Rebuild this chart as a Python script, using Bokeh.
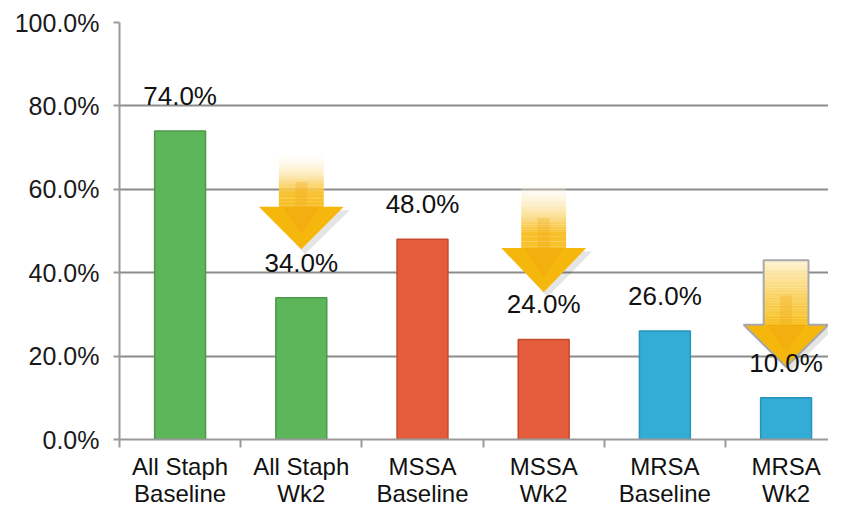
from bokeh.plotting import figure
from bokeh.models import Range1d, FixedTicker, PrintfTickFormatter, ColumnDataSource
from bokeh.embed import file_html
from bokeh.resources import INLINE
from bokeh.core.properties import value

categories = ["All Staph\nBaseline", "All Staph\nWk2", "MSSA\nBaseline", "MSSA\nWk2", "MRSA\nBaseline", "MRSA\nWk2"]
values = [74.0, 34.0, 48.0, 24.0, 26.0, 10.0]
bar_colors = ["#5DB65A", "#5DB65A", "#E45C3B", "#E45C3B", "#33ADD6", "#33ADD6"]
edge_colors = ["#4A9A47", "#4A9A47", "#C44A2C", "#C44A2C", "#2894BB", "#2894BB"]
y_ticks = [0, 20, 40, 60, 80, 100]

# decorative arrows above the "Wk2" bars: (category index, top, head start, tip)
arrow_idx = [1, 3, 5]
arrow_top = [69.0, 62.0, 43.0]
arrow_head = [55.8, 45.9, 27.5]
arrow_tip = [45.6, 35.3, 17.4]
arrow_outline = [False, False, True]

FONT = "Liberation Sans"
x = [i + 0.5 for i in range(len(categories))]

p = figure(width=828, height=509, output_backend="svg", toolbar_location=None,
           x_range=Range1d(0, 5.85), y_range=Range1d(0, 100),
           min_border_left=119, min_border_right=0, min_border_top=22, min_border_bottom=60)
p.outline_line_color = None
p.background_fill_color = "white"
p.border_fill_color = "white"

# grid
p.xgrid.grid_line_color = None
p.ygrid.ticker = FixedTicker(ticks=y_ticks)
p.ygrid.grid_line_color = "#8C8C8C"
p.ygrid.grid_line_width = 2

# y axis
p.yaxis.ticker = FixedTicker(ticks=y_ticks)
p.yaxis.formatter = PrintfTickFormatter(format="%.1f%%")
p.yaxis.axis_line_color = "#9A9A9A"
p.yaxis.axis_line_width = 2
p.yaxis.major_tick_line_color = "#9A9A9A"
p.yaxis.major_tick_line_width = 2
p.yaxis.major_tick_out = 6
p.yaxis.major_tick_in = 0
p.yaxis.minor_tick_line_color = None
p.yaxis.major_label_text_font = FONT
p.yaxis.major_label_text_font_size = "25px"
p.yaxis.major_label_text_color = "#1A1A1A"
p.yaxis.major_label_standoff = 14

# x axis: labels at category centres, tick marks at category boundaries
p.xaxis.ticker = FixedTicker(ticks=x, minor_ticks=list(range(len(categories))))
p.xaxis.major_label_overrides = {xi: c for xi, c in zip(x, categories)}
p.xaxis.axis_line_color = "#9A9A9A"
p.xaxis.axis_line_width = 2
p.xaxis.major_tick_line_color = None
p.xaxis.major_tick_out = 0
p.xaxis.major_tick_in = 0
p.xaxis.minor_tick_line_color = "#9A9A9A"
p.xaxis.minor_tick_line_width = 2
p.xaxis.minor_tick_out = 8
p.xaxis.minor_tick_in = 0
p.xaxis.major_label_text_font = FONT
p.xaxis.major_label_text_font_size = "24px"
p.xaxis.major_label_text_line_height = 1.0
p.xaxis.major_label_text_color = "#111111"
p.xaxis.major_label_standoff = 5

# bars
src = ColumnDataSource(dict(x=x, top=values, color=bar_colors, edge=edge_colors,
                            label=[f"{v:.1f}%" for v in values]))
p.vbar(x="x", top="top", bottom=0, width=0.42, fill_color="color", line_color="edge",
       line_width=1.5, source=src)

# arrows
def mix(c1, c2, t):
    a = [int(c1[i:i + 2], 16) for i in (1, 3, 5)]
    b = [int(c2[i:i + 2], 16) for i in (1, 3, 5)]
    return "#%02x%02x%02x" % tuple(round(a[k] + (b[k] - a[k]) * t) for k in range(3))

shaft_hw = 0.185
head_hw = 0.35
for idx, top, head, tip, outl in zip(arrow_idx, arrow_top, arrow_head, arrow_tip, arrow_outline):
    cx = x[idx]
    p.patch([cx - head_hw + 0.05, cx + head_hw + 0.05, cx + 0.03],
            [head - 0.8, head - 0.8, tip - 1.2], fill_color="#000000", fill_alpha=0.10, line_color=None)
    n = 40
    lefts, rights, tops, bottoms, cols, alphas = [], [], [], [], [], []
    for k in range(n):
        t0 = k / n
        t1 = (k + 1) / n
        tops.append(top - (top - head) * t0)
        bottoms.append(top - (top - head) * t1 - 0.05)
        lefts.append(cx - shaft_hw)
        rights.append(cx + shaft_hw)
        tt = (k + 0.5) / n
        if outl:
            cols.append(mix("#FFF6DC", "#F7BE1C", tt ** 0.8))
            alphas.append(1.0)
        else:
            cols.append(mix("#FFFFFF", "#F8C02A", min(1.0, tt * 1.3)))
            alphas.append(min(1.0, 0.1 + tt * 1.2))
    p.quad(left=lefts, right=rights, top=tops, bottom=bottoms, fill_color=cols,
           fill_alpha=alphas, line_color=None)
    p.quad(left=[cx - 0.05], right=[cx + 0.05], top=[head + (top - head) * 0.45], bottom=[head],
           fill_color="#F2A81E", fill_alpha=0.3, line_color=None)
    p.patch([cx - head_hw, cx + head_hw, cx], [head, head, tip],
            fill_color="#F6B70C", line_color=None)
    p.patch([cx - head_hw * 0.45, cx + head_hw * 0.45, cx], [head, head, tip + (head - tip) * 0.35],
            fill_color="#F0A514", fill_alpha=0.45, line_color=None)
    if outl:
        p.line([cx - shaft_hw, cx - shaft_hw, cx + shaft_hw, cx + shaft_hw, cx + head_hw, cx, cx - head_hw, cx - shaft_hw],
               [head, top, top, head, head, tip, head, head],
               line_color="#A8A8A8", line_width=2)

# value labels
p.text(x="x", y="top", text="label", source=src, text_align="center", text_baseline="bottom",
       y_offset=-20, text_font=value(FONT), text_font_size="26px", text_color="#111111")

with open("out.html", "w") as f:
    f.write(file_html(p, INLINE))
